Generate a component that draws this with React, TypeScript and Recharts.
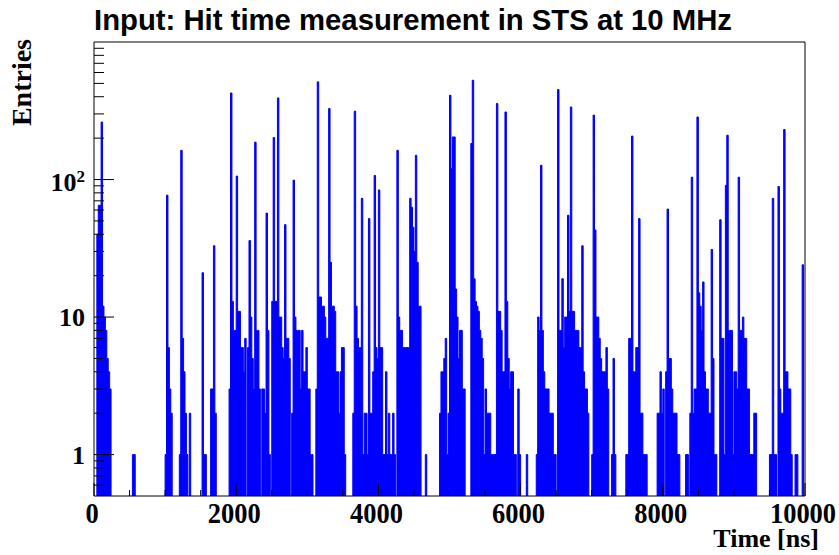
import { ComposedChart, Area, XAxis, YAxis, ReferenceLine } from 'recharts'

// histogram bin width in ns
const BIN = 20

// start time (ns) of each run of non-empty bins, and the bin contents from there on
const burstStart = [40, 540, 1000, 1200, 1520, 1640, 1900, 3120, 3640, 4260, 4660, 4860, 5300, 6080, 6220, 7000, 7480, 7920, 8320, 9500]
const burstCounts = [
  [40, 65, 65, 262, 12, 10, 8, 5, 4, 3],
  [1, 1],
  [1, 77, 6, 3, 2],
  [1, 163, 7, 4, 2, 1, 0, 2],
  [21, 1, 1],
  [3, 3, 33, 2],
  [3, 426, 13, 8, 8, 106, 11, 11, 6, 6, 4, 7, 0, 6, 36, 10, 5, 3, 187, 8, 8, 3, 0, 3, 3, 2, 57, 8, 1, 0,
    13, 202, 13, 13, 392, 10, 10, 6, 5, 47, 7, 7, 5, 0, 2, 99, 10, 8, 8, 8, 3, 8, 4, 4, 6, 3, 3, 1, 1],
  [3, 513, 14, 14, 12, 12, 10, 7, 7, 328, 25, 12, 12, 11, 4, 4, 2, 4, 6, 6, 1],
  [2, 314, 12, 7, 6, 6, 73, 1, 2, 2, 1, 52, 2, 2, 4, 107, 6, 5, 84, 6, 6, 1, 1, 4, 1, 2, 1, 1, 2, 1],
  [163, 10, 8, 8, 6, 6, 6, 6, 6, 73, 63, 45, 30, 150, 25, 12, 12],
  [1],
  [2, 4, 4, 5, 7, 1, 2, 410, 120, 204, 204, 16, 10, 5, 8, 8, 3, 3],
  [183, 527, 19, 13, 12, 11, 8, 7, 5, 1, 3, 2, 2, 2, 1, 1, 1, 1, 357, 11, 11, 8, 4, 4, 310, 13, 5, 3, 4, 4, 1, 1, 0, 3, 1],
  [1],
  [1, 10, 8, 127, 8, 4, 3, 3, 3, 2, 2, 2, 1, 1, 0, 451, 8, 8, 19, 6, 10, 10, 55, 11, 337, 11, 11, 8, 8, 8, 6, 6, 33, 4, 3, 3, 2],
  [1, 294, 43, 10, 10, 7, 5, 4, 4, 4, 6, 3, 0, 0, 1, 5, 1],
  [1, 1, 7, 7, 207, 4, 4, 6, 6, 52, 2, 2, 1, 1, 1],
  [2, 2, 4, 2, 3, 0, 4, 61, 5, 5, 3, 2, 2, 2, 1, 1],
  [1, 1, 0, 2, 104, 2, 3, 3, 285, 15, 12, 8, 18, 4, 3, 3, 2, 2, 31, 5, 1, 1, 0, 0, 51, 7, 7, 1, 91, 210,
    8, 8, 8, 1, 4, 4, 3, 104, 8, 8, 10, 7, 7, 3, 3, 1, 1, 1, 2, 2],
  [1, 1, 73, 1, 1, 0, 89, 3, 2, 2, 231, 4, 4, 3, 3, 1, 0, 0, 1, 1, 0, 0, 0, 24],
]

const xTicks = [0, 500, 1000, 1500, 2000, 2500, 3000, 3500, 4000, 4500, 5000, 5500, 6000, 6500, 7000, 7500, 8000, 8500, 9000, 9500, 10000]
const xLabeled = [0, 2000, 4000, 6000, 8000, 10000]
const yTicks = [0.6, 0.7, 0.8, 0.9, 1, 2, 3, 4, 5, 6, 7, 8, 9, 10, 20, 30, 40, 50, 60, 70, 80, 90, 100, 200, 300, 400, 500, 600, 700, 800, 900]
const yLabeled = [1, 10, 100]

// empty bins can't sit on a log axis: park them under the frame, they get clipped
const EMPTY = 0.3

const counts: number[] = new Array(10000 / BIN).fill(0)
burstStart.forEach((s, k) => burstCounts[k].forEach((n, i) => { counts[s / BIN + i] = n }))
const data = counts.map((n, i) => ({ t: i * BIN, n: n > 0 ? n : EMPTY }))
data.push({ t: 10000, n: data[data.length - 1].n })

const serif = '"Liberation Serif", "Times New Roman", serif'

function YTick({ x, y, payload }: any) {
  const v = payload.value
  const major = yLabeled.includes(v)
  return (
    <g>
      <line x1={x} x2={x + (major ? 20 : 10)} y1={y} y2={y} stroke="#000" />
      {major && (v === 100 ? (
        <text x={x - 9} y={y + 11.5} textAnchor="end" fontFamily={serif} fontWeight="bold" fontSize={26} fill="#000">
          10<tspan fontSize={17} dy={-9}>2</tspan>
        </text>
      ) : (
        <text x={x - 9} y={y + 9} textAnchor="end" fontFamily={serif} fontWeight="bold" fontSize={26} fill="#000">{v}</text>
      ))}
    </g>
  )
}

function XTick({ x, y, payload }: any) {
  const v = payload.value
  const major = xLabeled.includes(v)
  return (
    <g>
      <line x1={x} x2={x} y1={y} y2={y - (major ? 13 : 6)} stroke="#000" />
      {major && (
        <text transform={`translate(${x - 2},${y + 27}) scale(1,1.12)`} textAnchor="middle"
          fontFamily={serif} fontWeight="bold" fontSize={26.5} fill="#000">{v}</text>
      )}
    </g>
  )
}

export default function App() {
  return (
    <div style={{ position: 'relative', width: 839, height: 555, background: '#fff' }}>
      <style>{'body{margin:0}'}</style>
      <ComposedChart width={839} height={555} data={data} margin={{ top: 42, right: 34, bottom: 0, left: 0 }}>
        <Area type="stepAfter" dataKey="n" stroke="#0000ff" strokeWidth={1} fill="#0000ff" fillOpacity={1}
          isAnimationActive={false} dot={false} activeDot={false} />
        <XAxis dataKey="t" type="number" domain={[0, 10000]} allowDataOverflow ticks={xTicks} interval={0}
          height={59} tickSize={0} tickMargin={0} tickLine={false} tick={<XTick />} axisLine={{ stroke: '#000' }} />
        <YAxis type="number" scale="log" domain={[0.5, 1000]} allowDataOverflow ticks={yTicks} interval={0}
          width={94} tickSize={0} tickMargin={0} tickLine={false} tick={<YTick />} axisLine={{ stroke: '#000' }} />
        <ReferenceLine y={1000} stroke="#000" />
        <ReferenceLine x={10000} stroke="#000" />
      </ComposedChart>
      <svg width={839} height={555} style={{ position: 'absolute', left: 0, top: 0, pointerEvents: 'none' }}>
        <text x={94} y={30} textLength={638} lengthAdjust="spacingAndGlyphs"
          fontFamily='"Liberation Sans", Arial, sans-serif' fontWeight="bold" fontSize={29.5} fill="#000">
          Input: Hit time measurement in STS at 10 MHz
        </text>
        <text transform="translate(31,39) rotate(-90)" textAnchor="end" fontFamily={serif} fontWeight="bold" fontSize={28} fill="#000">
          Entries
        </text>
        <text x={819} y={547} textAnchor="end" fontFamily={serif} fontWeight="bold" fontSize={26} fill="#000">
          Time [ns]
        </text>
      </svg>
    </div>
  )
}
